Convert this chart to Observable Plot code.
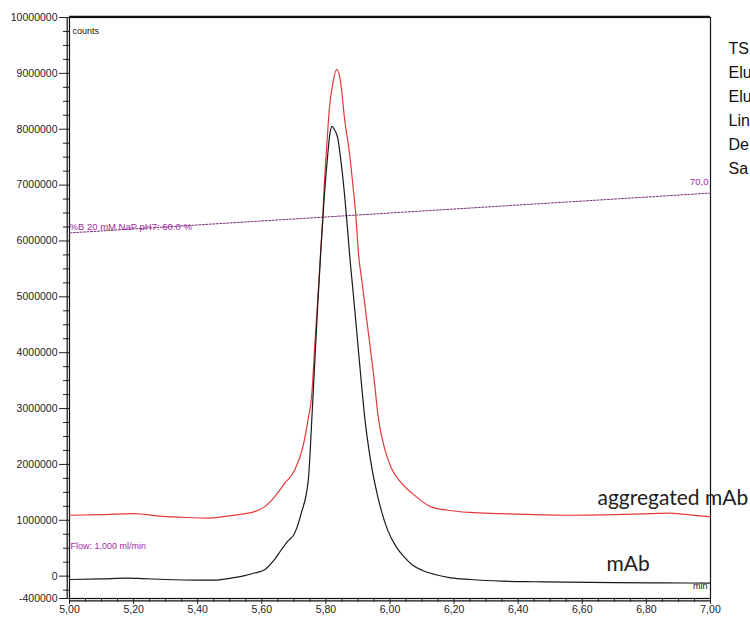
<!DOCTYPE html>
<html><head><meta charset="utf-8">
<script src="https://cdn.jsdelivr.net/npm/d3@7"></script>
<script src="https://cdn.jsdelivr.net/npm/@observablehq/plot@0.6"></script>
<style>body{margin:0;background:#fff;overflow:hidden} svg{display:block}</style>
</head><body><div id="chart"></div>
<script>
// mAb trace (black)
const mAbTime = [5.00, 5.10, 5.18, 5.23, 5.30, 5.39, 5.46, 5.50, 5.54, 5.58, 5.61, 5.64, 5.66, 5.68, 5.70, 5.723, 5.745, 5.757, 5.765, 5.775, 5.785, 5.795, 5.805, 5.812, 5.819, 5.826, 5.837, 5.847, 5.858, 5.868, 5.873, 5.885, 5.897, 5.91, 5.92, 5.94, 5.962, 5.993, 6.02, 6.044, 6.07, 6.10, 6.14, 6.19, 6.25, 6.35, 6.45, 6.55, 6.70, 6.85, 7.00];
const mAbCounts = [-60000, -50000, -35000, -45000, -60000, -70000, -70000, -40000, 0, 60000, 120000, 300000, 464000, 620000, 740000, 1125000, 1714000, 2910000, 3800000, 4900000, 5900000, 6800000, 7500000, 7900000, 8050000, 8000000, 7840000, 7430000, 6840000, 6180000, 5820000, 5080000, 4330000, 3500000, 2900000, 2050000, 1420000, 820000, 520000, 345000, 200000, 107000, 30000, -30000, -60000, -90000, -100000, -107000, -115000, -120000, -125000];
// aggregated mAb trace (red)
const aggTime = [5.00, 5.10, 5.20, 5.29, 5.36, 5.44, 5.50, 5.54, 5.58, 5.608, 5.64, 5.671, 5.702, 5.728, 5.744, 5.756, 5.765, 5.775, 5.785, 5.79, 5.795, 5.803, 5.811, 5.821, 5.834, 5.847, 5.858, 5.873, 5.884, 5.894, 5.901, 5.915, 5.93, 5.951, 5.962, 5.982, 6.003, 6.034, 6.076, 6.128, 6.18, 6.25, 6.346, 6.45, 6.553, 6.70, 6.813, 6.865, 6.93, 7.00];
const aggCounts = [1090000, 1100000, 1120000, 1070000, 1050000, 1040000, 1080000, 1110000, 1160000, 1240000, 1420000, 1660000, 1890000, 2310000, 2790000, 3260000, 4100000, 5000000, 5940000, 6420000, 7010000, 7730000, 8380000, 8800000, 9070000, 8800000, 8200000, 7600000, 7010000, 6420000, 5820000, 5170000, 4470000, 3500000, 2900000, 2310000, 1950000, 1680000, 1450000, 1240000, 1180000, 1140000, 1120000, 1100000, 1090000, 1100000, 1120000, 1130000, 1100000, 1060000];
// %B gradient overlay, drawn on the counts scale
const gradientTime = [5.00, 7.00];
const gradientCounts = [6144000, 6857000];
const gradientStartLabel = "%B 20 mM NaP pH7: 60.0 %";
const gradientEndLabel = "70,0";
const flowLabel = "Flow: 1,000 ml/min";
const sideLabels = ["TS", "Elu", "Elu", "Lin", "De", "Sa"];
const xMajorTicks = [5.0, 5.2, 5.4, 5.6, 5.8, 6.0, 6.2, 6.4, 6.6, 6.8, 7.0];
const yMajorTicks = [-400000, 0, 1000000, 2000000, 3000000, 4000000, 5000000, 6000000, 7000000, 8000000, 9000000, 10000000];

const xMinorTicks = d3.range(0, 41).map(i => 5 + i * 0.05).filter(v => Math.abs(v * 5 - Math.round(v * 5)) > 1e-6);
const yMinorTicks = d3.range(-1, 40).map(i => i * 250000).filter(v => v % 1000000 !== 0);

const mAb = mAbTime.map((t, i) => ({t, c: mAbCounts[i]}));
const agg = aggTime.map((t, i) => ({t, c: aggCounts[i]}));
const grad = gradientTime.map((t, i) => ({t, c: gradientCounts[i]}));

const font = "'Liberation Sans', Arial, sans-serif";
const purple = "#a02aa0";

const chart = Plot.plot({
  width: 750, height: 619,
  marginLeft: 69, marginRight: 40, marginTop: 17, marginBottom: 21,
  style: {fontFamily: font, background: "#fff", overflow: "visible"},
  x: {domain: [5, 7]},
  y: {domain: [-400000, 10000000]},
  marks: [
    Plot.frame({stroke: "#111", strokeWidth: 1.2}),
    Plot.ruleX([5], {dx: -2.3, stroke: "#111", strokeWidth: 1.2}),
    Plot.ruleY([-400000], {dy: 2.3, stroke: "#111", strokeWidth: 1.2}),
    Plot.ruleY([10000000], {dy: -1.2, stroke: "#111", strokeWidth: 1.2}),
    Plot.line(grad, {x: "t", y: "c", stroke: "#7a2f7a", strokeWidth: 1, strokeDasharray: "2,1.5"}),
    Plot.line(agg, {x: "t", y: "c", curve: "monotone-x", stroke: "#e5383b", strokeWidth: 1.2}),
    Plot.line(mAb, {x: "t", y: "c", curve: "monotone-x", stroke: "#1a1a1a", strokeWidth: 1.2}),
    Plot.text([gradientStartLabel], {x: () => gradientTime[0], y: () => gradientCounts[0], textAnchor: "start", dx: 0, dy: -6, fill: purple, fontSize: 9.5}),
    Plot.text([gradientEndLabel], {x: () => gradientTime[1], y: () => gradientCounts[1], textAnchor: "end", dx: -2, dy: -11, fill: purple, fontSize: 9.5}),
    Plot.text([flowLabel], {frameAnchor: "bottom-left", textAnchor: "start", dx: 1, dy: -50, fill: purple, fontSize: 9}),
    Plot.text(["counts"], {frameAnchor: "top-left", textAnchor: "start", dx: 3, dy: 10, fill: "#111", fontSize: 9}),
    Plot.text(["min"], {frameAnchor: "bottom-right", textAnchor: "end", dx: -3, dy: -10, fill: "#111", fontSize: 9}),
    Plot.text(["aggregated mAb"], {x: () => aggTime[aggTime.length - 1], y: () => aggCounts[aggCounts.length - 1], textAnchor: "start", dx: -113, dy: -19, fill: "#222", fontSize: 21, fontFamily: "Lato, sans-serif"}),
    Plot.text(["mAb"], {x: () => mAbTime[mAbTime.length - 1], y: () => mAbCounts[mAbCounts.length - 1], textAnchor: "start", dx: -104, dy: -18.5, fill: "#222", fontSize: 21, fontFamily: "Lato, sans-serif"}),
    Plot.text([sideLabels.join("\n")], {frameAnchor: "top-right", textAnchor: "start", lineAnchor: "top", lineHeight: 1.5, dx: 18, dy: 19, fill: "#111", fontSize: 16}),
    Plot.axisY(yMajorTicks, {anchor: "left", tickSize: 10, tickPadding: 2, tickFormat: d => String(d), fontSize: 10.5, label: null, color: "#222"}),
    Plot.axisY(yMinorTicks, {anchor: "left", tickSize: 6, tickFormat: () => "", label: null, color: "#222"}),
    Plot.axisX(xMajorTicks, {anchor: "bottom", tickSize: 6, tickPadding: 1, tickFormat: d => d.toFixed(2).replace(".", ","), fontSize: 10.5, label: null, color: "#222"}),
    Plot.axisX(xMinorTicks, {anchor: "bottom", tickSize: 4, tickFormat: () => "", label: null, color: "#222"})
  ]
});
document.getElementById("chart").appendChild(chart);
</script>
</body></html>
